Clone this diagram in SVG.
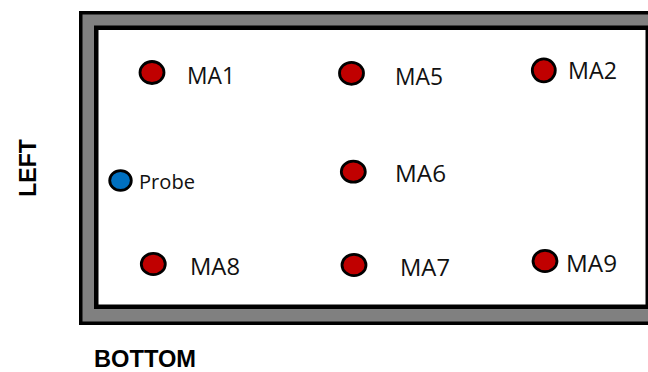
<svg xmlns="http://www.w3.org/2000/svg" width="648" height="372" viewBox="0 0 648 372">
<style>
.pt{fill:#C00000;stroke:#000;stroke-width:2.8}
.probe{fill:#0070C0;stroke:#000;stroke-width:2.8}
.lbl{font-family:"Open Sans","Liberation Sans",sans-serif;font-size:23px;fill:#111}
.side{font-family:"Liberation Sans",Arial,sans-serif;font-size:23px;font-weight:bold;fill:#000}
</style>
<rect width="648" height="372" fill="#fff"/>
<g id="frame">
<rect x="80.75" y="12.75" width="580" height="310.5" fill="#808080" stroke="#000" stroke-width="3.5"/>
<rect x="96.25" y="27.75" width="551.5" height="279" fill="#fff" stroke="#000" stroke-width="4.5"/>
</g>
<g id="connectors"/>
<g id="MA1"><ellipse class="pt" cx="152" cy="72.5" rx="12" ry="11"/><text class="lbl" x="187" y="83.5" textLength="48" lengthAdjust="spacingAndGlyphs">MA1</text></g>
<g id="MA5"><ellipse class="pt" cx="351.5" cy="73.3" rx="12" ry="11"/><text class="lbl" x="395" y="85" textLength="48" lengthAdjust="spacingAndGlyphs">MA5</text></g>
<g id="MA2"><ellipse class="pt" cx="543.8" cy="70.3" rx="11.5" ry="11.5"/><text class="lbl" x="568" y="78.5" textLength="49" lengthAdjust="spacingAndGlyphs">MA2</text></g>
<g id="MA6"><ellipse class="pt" cx="353.3" cy="171.7" rx="12" ry="10.5"/><text class="lbl" x="395" y="182" textLength="51" lengthAdjust="spacingAndGlyphs">MA6</text></g>
<g id="Probe"><ellipse class="probe" cx="120.5" cy="180.5" rx="10.8" ry="9.8"/><text class="lbl" x="139" y="188.5" style="font-size:20px" textLength="56" lengthAdjust="spacingAndGlyphs">Probe</text></g>
<g id="MA8"><ellipse class="pt" cx="153.3" cy="264" rx="12" ry="10.7"/><text class="lbl" x="190" y="275" textLength="50" lengthAdjust="spacingAndGlyphs">MA8</text></g>
<g id="MA7"><ellipse class="pt" cx="354" cy="265" rx="12" ry="10.7"/><text class="lbl" x="400" y="276" textLength="50" lengthAdjust="spacingAndGlyphs">MA7</text></g>
<g id="MA9"><ellipse class="pt" cx="545" cy="261" rx="12" ry="10.7"/><text class="lbl" x="566" y="272" textLength="51" lengthAdjust="spacingAndGlyphs">MA9</text></g>
<g id="labels">
<text class="side" transform="translate(36,168) rotate(-90)" text-anchor="middle">LEFT</text>
<text class="side" x="94" y="367" textLength="102" lengthAdjust="spacingAndGlyphs">BOTTOM</text>
</g>
</svg>
